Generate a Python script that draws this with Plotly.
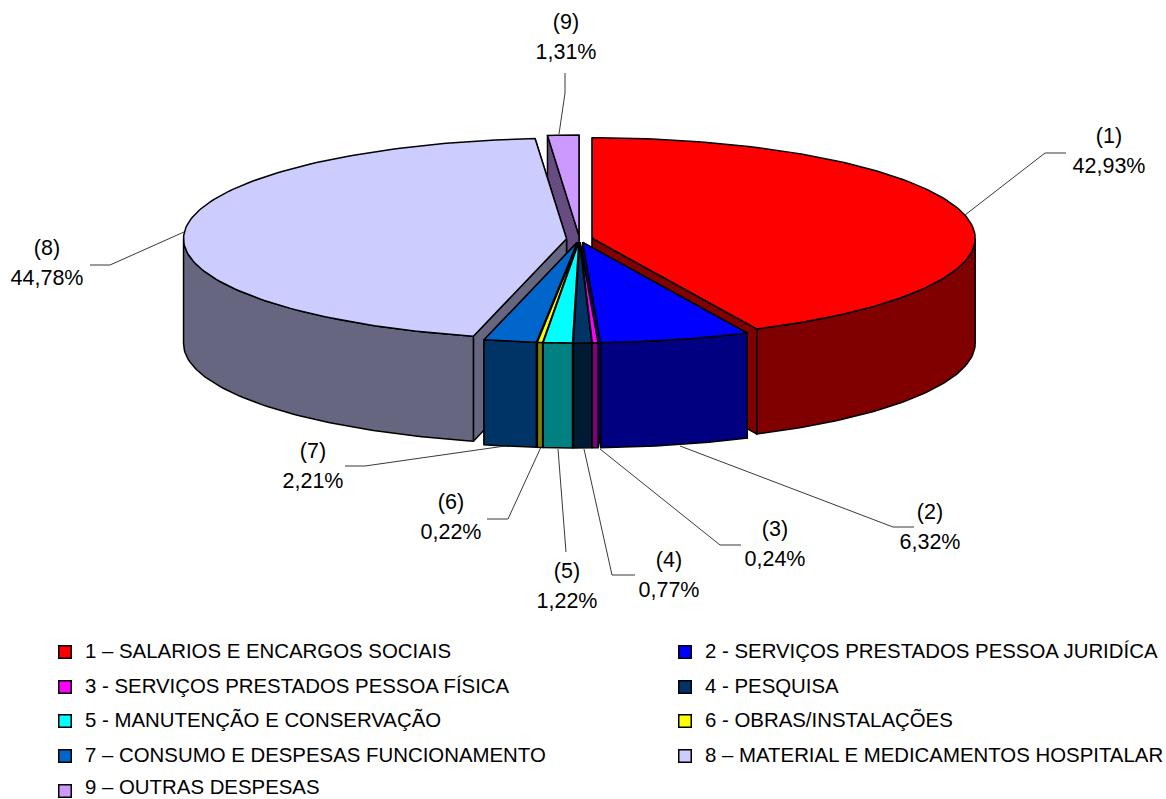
import math
import plotly.graph_objects as go

# ---------- data ----------
categories = [
    "1 – SALARIOS E ENCARGOS SOCIAIS",
    "2 - SERVIÇOS PRESTADOS PESSOA JURIDÍCA",
    "3 - SERVIÇOS PRESTADOS PESSOA FÍSICA",
    "4 - PESQUISA",
    "5 - MANUTENÇÃO E CONSERVAÇÃO",
    "6 - OBRAS/INSTALAÇÕES",
    "7 – CONSUMO E DESPESAS FUNCIONAMENTO",
    "8 – MATERIAL E MEDICAMENTOS HOSPITALAR",
    "9 – OUTRAS DESPESAS",
]
values = [42.93, 6.32, 0.24, 0.77, 1.22, 0.22, 2.21, 44.78, 1.31]
top_colors = ["#FF0000", "#0000FF", "#FF00FF", "#003366", "#00FFFF",
              "#FFFF00", "#0066CC", "#CCCCFF", "#CC99FF"]
side_colors = ["#800000", "#000080", "#800080", "#001A33", "#008080",
               "#808000", "#003366", "#666680", "#664C80"]

# ---------- layout of the projected pie (pixels) ----------
W, H = 1166, 799
CX, CY = 579.5, 239.0
RX, RY = 383.0, 100.5
DEPTH = 105.0
EXPLODE = 13.0
EDGE = 1.5

# label anchors and leader lines, in pixels
label_pos = [(1109, 138), (930, 514), (775, 531), (669, 562), (567, 573),
             (451, 504), (313, 453), (47, 250), (566, 24)]
LINE_GAP = 30
leaders = [
    [(965, 215), (1045, 153), (1066, 153)],
    [(680, 446), (893, 527), (914, 527)],
    [(600, 449), (720, 545), (741, 545)],
    [(584, 449), (612, 575), (635, 575)],
    [(558, 449), (566, 552)],
    [(541, 447), (508, 519), (487, 519)],
    [(505, 446), (365, 466), (345, 466)],
    [(184, 232), (110, 265), (90, 265)],
    [(559, 134), (565, 93), (565, 73)],
]
legend_left = (65, 85)
legend_right = (685, 705)
legend_rows = [652, 687, 721, 756, 791]
legend_text_rows = [653, 688, 722, 757, 789]

FONT = "Liberation Sans, Arial, sans-serif"
fig = go.Figure()


def poly(xs, ys, fill):
    fig.add_trace(go.Scatter(
        x=xs, y=ys, mode="lines", fill="toself", fillcolor=fill,
        line=dict(color="#000000", width=EDGE), hoverinfo="skip", showlegend=False,
    ))


def project(deg, ox, oy, r=1.0, d=0.0):
    a = math.radians(deg)
    return ox + RX * r * math.sin(a), oy - RY * r * math.cos(a) + d


def arc(a0, a1):
    n = max(2, int(abs(a1 - a0) / 1.0) + 1)
    return [a0 + (a1 - a0) * i / (n - 1) for i in range(n)]


total = sum(values)
slices = []
cum = 0.0
for i, v in enumerate(values):
    a0 = cum / total * 360
    cum += v
    a1 = cum / total * 360
    slices.append((i, a0, a1, (a0 + a1) / 2))

# paint from the back of the pie to the front
for i, a0, a1, mid in sorted(slices, key=lambda s: math.cos(math.radians(s[3])), reverse=True):
    m = math.radians(mid)
    ox = CX + EXPLODE * math.sin(m)
    oy = CY - EXPLODE * RY / RX * math.cos(m)
    # radial faces, the one further back first
    for edge in sorted((a0, a1), key=lambda t: math.cos(math.radians(t)), reverse=True):
        ex, ey = project(edge, ox, oy)
        poly([ox, ex, ex, ox, ox], [oy, ey, ey + DEPTH, oy + DEPTH, oy], side_colors[i])
    # outer wall (front half only)
    w0, w1 = max(a0, 90.0), min(a1, 270.0)
    if w1 > w0:
        pts = [project(t, ox, oy) for t in arc(w0, w1)]
        low = [project(t, ox, oy, d=DEPTH) for t in arc(w1, w0)]
        all_pts = pts + low + pts[:1]
        poly([p[0] for p in all_pts], [p[1] for p in all_pts], side_colors[i])
    # top
    pts = [(ox, oy)] + [project(t, ox, oy) for t in arc(a0, a1)] + [(ox, oy)]
    poly([p[0] for p in pts], [p[1] for p in pts], top_colors[i])

# leader lines
for path in leaders:
    fig.add_trace(go.Scatter(
        x=[p[0] for p in path], y=[p[1] for p in path], mode="lines",
        line=dict(color="#222222", width=0.9), hoverinfo="skip", showlegend=False,
    ))

# data labels
lx, ly, lt = [], [], []
for i, (v, (x, y)) in enumerate(zip(values, label_pos)):
    lx += [x, x]
    ly += [y, y + LINE_GAP]
    lt += [f"({i + 1})", f"{v:.2f}%".replace(".", ",")]
fig.add_trace(go.Scatter(
    x=lx, y=ly, text=lt, mode="text", textposition="middle center",
    textfont=dict(family=FONT, size=21.5, color="#000000"),
    hoverinfo="skip", showlegend=False,
))

# legend
for i, (name, col) in enumerate(zip(categories, top_colors)):
    mx, tx = legend_left if i % 2 == 0 else legend_right
    fig.add_trace(go.Scatter(
        x=[mx], y=[legend_rows[i // 2]], mode="markers",
        marker=dict(symbol="square", size=12.5, color=col, line=dict(color="#000000", width=1.5)),
        hoverinfo="skip", showlegend=False,
    ))
    fig.add_trace(go.Scatter(
        x=[tx], y=[legend_text_rows[i // 2]], text=[name], mode="text", textposition="middle right",
        textfont=dict(family=FONT, size=20.4, color="#000000"),
        hoverinfo="skip", showlegend=False,
    ))

fig.update_layout(
    width=W, height=H, margin=dict(l=0, r=0, t=0, b=0),
    paper_bgcolor="#FFFFFF", plot_bgcolor="#FFFFFF", showlegend=False,
    xaxis=dict(range=[0, W], visible=False, fixedrange=True),
    yaxis=dict(range=[H, 0], visible=False, fixedrange=True),
)
fig.write_html("out.html", config=dict(displayModeBar=False),
               post_script="document.body.style.margin='0';document.documentElement.style.overflow='hidden';")
